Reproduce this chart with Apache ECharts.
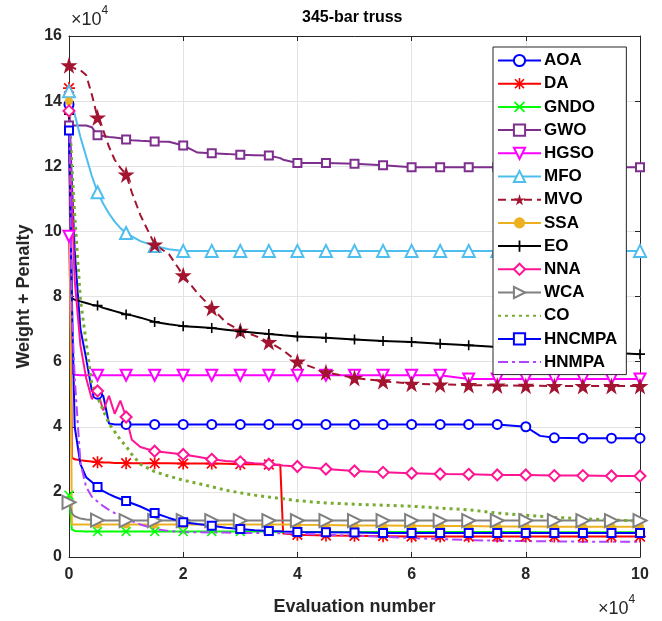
<!DOCTYPE html>
<html>
<head>
<meta charset="utf-8">
<script src="https://cdn.jsdelivr.net/npm/echarts@6/dist/echarts.min.js"></script>
<style>
  html, body { margin: 0; padding: 0; background: #ffffff; }
  #chart { width: 662px; height: 621px; }
</style>
</head>
<body>
<div id="chart"></div>
<script>
// Function evaluations (×10^4) at which each convergence curve is sampled
const evals = [0, 0.05, 0.1, 0.2, 0.3, 0.4, 0.5, 0.6, 0.7, 0.8, 0.9, 1.0, 1.1,
  1.25, 1.5, 1.75, 2.0, 2.25, 2.5, 2.75, 3.0, 3.25, 3.5,
  3.7, 3.75,
  4, 4.5, 5, 5.5, 6, 6.5, 7, 7.5, 8,
  8.25,
  8.5, 9, 9.5, 10];

// Best weight + penalty (×10^4) per algorithm
const AOA = [13.9, 11.5, 9.4, 7.0, 6.1, 5.1, 5.0, 4.95, 4.1, 4.07, 4.07, 4.07, 4.07,
  4.07, 4.07, 4.07, 4.07, 4.07, 4.07, 4.07, 4.07, 4.07, 4.07,
  4.07, 4.07,
  4.07, 4.07, 4.07, 4.07, 4.07, 4.07, 4.07, 4.07, 4.0,
  3.72,
  3.66, 3.65, 3.65, 3.65];
const DA = [14.4, 3.05, 3.0, 2.97, 2.95, 2.93, 2.91, 2.9, 2.9, 2.89, 2.89, 2.88, 2.88,
  2.88, 2.88, 2.88, 2.87, 2.87, 2.87, 2.86, 2.85, 2.85, 2.84,
  2.83, 0.72,
  0.68, 0.66, 0.65, 0.64, 0.63, 0.63, 0.63, 0.63, 0.63,
  0.63,
  0.63, 0.63, 0.63, 0.63];
const GNDO = [1.9, 0.85, 0.8, 0.79, 0.78, 0.78, 0.78, 0.78, 0.78, 0.78, 0.78, 0.78, 0.78,
  0.78, 0.78, 0.78, 0.78, 0.78, 0.78, 0.78, 0.78, 0.78, 0.78,
  0.77, 0.77,
  0.77, 0.77, 0.77, 0.77, 0.77, 0.77, 0.77, 0.77, 0.77,
  0.76,
  0.76, 0.76, 0.76, 0.76];
const GWO = [13.25, 13.25, 13.25, 13.25, 13.25, 13.2, 12.95, 12.93, 12.9, 12.88, 12.86, 12.82, 12.8,
  12.78, 12.76, 12.75, 12.64, 12.42, 12.4, 12.38, 12.35, 12.34, 12.33,
  12.25, 12.2,
  12.1, 12.1, 12.08, 12.03, 11.97, 11.97, 11.97, 11.97, 11.97,
  11.97,
  11.97, 11.97, 11.97, 11.97];
const HGSO = [9.85, 5.65, 5.6, 5.58, 5.58, 5.58, 5.58, 5.58, 5.58, 5.58, 5.58, 5.58, 5.58,
  5.58, 5.58, 5.58, 5.58, 5.58, 5.58, 5.58, 5.58, 5.58, 5.58,
  5.58, 5.58,
  5.58, 5.58, 5.58, 5.58, 5.58, 5.58, 5.47, 5.47, 5.47,
  5.47,
  5.47, 5.47, 5.47, 5.47];
const MFO = [14.3, 13.9, 13.6, 12.9, 12.3, 11.7, 11.2, 10.85, 10.55, 10.3, 10.1, 9.95, 9.85,
  9.7, 9.55, 9.45, 9.4, 9.4, 9.4, 9.4, 9.4, 9.4, 9.4,
  9.4, 9.4,
  9.4, 9.4, 9.4, 9.4, 9.4, 9.4, 9.4, 9.4, 9.4,
  9.4,
  9.4, 9.4, 9.4, 9.4];
const MVO = [15.1, 15.05, 15.0, 14.95, 14.8, 14.2, 13.5, 13.1, 12.6, 12.2, 11.95, 11.75, 11.2,
  10.5, 9.6, 9.3, 8.65, 8.1, 7.65, 7.2, 6.95, 6.8, 6.6,
  6.4, 6.35,
  6.0, 5.67, 5.5, 5.4, 5.32, 5.3, 5.28, 5.27, 5.26,
  5.26,
  5.25, 5.25, 5.25, 5.25];
const SSA = [14.0, 1.0, 1.0, 1.0, 1.0, 1.0, 1.0, 1.0, 1.0, 1.0, 1.0, 1.0, 1.0,
  1.0, 1.0, 1.0, 1.0, 1.0, 1.0, 1.0, 1.0, 1.0, 1.0,
  1.0, 1.0,
  0.99, 0.98, 0.97, 0.97, 0.96, 0.95, 0.95, 0.94, 0.94,
  0.94,
  0.93, 0.93, 0.93, 0.93];
const EO = [13.6, 7.95, 7.9, 7.85, 7.8, 7.75, 7.72, 7.65, 7.6, 7.55, 7.5, 7.45, 7.42,
  7.35, 7.22, 7.15, 7.09, 7.06, 7.03, 6.98, 6.93, 6.89, 6.85,
  6.82, 6.81,
  6.77, 6.73, 6.68, 6.63, 6.6, 6.55, 6.5, 6.45, 6.4,
  6.37,
  6.33, 6.3, 6.27, 6.23];
const NNA = [13.7, 11.0, 8.5, 6.5, 5.5, 4.85, 5.1, 4.5, 4.95, 4.4, 4.8, 4.3, 3.6,
  3.38, 3.25, 3.2, 3.15, 3.08, 3.0, 2.95, 2.92, 2.88, 2.85,
  2.82, 2.81,
  2.78, 2.7, 2.64, 2.6, 2.57, 2.55, 2.54, 2.52, 2.52,
  2.51,
  2.5, 2.5, 2.49, 2.49];
const WCA = [1.68, 1.35, 1.25, 1.18, 1.15, 1.14, 1.13, 1.12, 1.12, 1.12, 1.12, 1.12, 1.12,
  1.12, 1.12, 1.12, 1.12, 1.12, 1.12, 1.12, 1.12, 1.12, 1.12,
  1.12, 1.12,
  1.12, 1.12, 1.12, 1.12, 1.12, 1.12, 1.12, 1.12, 1.12,
  1.12,
  1.12, 1.12, 1.12, 1.12];
const CO = [14.0, 12.0, 10.5, 7.9, 6.6, 5.3, 4.9, 4.5, 4.1, 3.85, 3.6, 3.4, 3.15,
  2.85, 2.62, 2.48, 2.36, 2.26, 2.16, 2.05, 1.97, 1.9, 1.84,
  1.8, 1.79,
  1.73, 1.66, 1.62, 1.59, 1.56, 1.5, 1.45, 1.35, 1.28,
  1.25,
  1.22, 1.17, 1.14, 1.1];
const HNCMPA = [13.1, 8.0, 4.0, 2.85, 2.45, 2.3, 2.15, 2.02, 1.93, 1.85, 1.78, 1.72, 1.65,
  1.55, 1.35, 1.2, 1.07, 1.01, 0.96, 0.9, 0.86, 0.82, 0.8,
  0.79, 0.78,
  0.77, 0.76, 0.75, 0.74, 0.74, 0.74, 0.74, 0.74, 0.74,
  0.74,
  0.74, 0.74, 0.74, 0.74];
const HNMPA = [14.3, 7.5, 5.5, 2.9, 2.15, 1.85, 1.7, 1.56, 1.45, 1.35, 1.25, 1.18, 1.1,
  1.0, 0.86, 0.8, 0.76, 0.76, 0.75, 0.75, 0.74, 0.74, 0.73,
  0.73, 0.73,
  0.72, 0.68, 0.66, 0.62, 0.58, 0.55, 0.52, 0.5, 0.49,
  0.48,
  0.48, 0.47, 0.47, 0.47];

const xTicks = [0, 2, 4, 6, 8, 10];
const yTicks = [0, 2, 4, 6, 8, 10, 12, 14, 16];

// Marker shapes
const ASTERISK = 'path://M4.3,0h1.4v10h-1.4z M0,4.3h10v1.4h-10z M1.5,0.5L9.5,8.5L8.5,9.5L0.5,1.5z M8.5,0.5L9.5,1.5L1.5,9.5L0.5,8.5z';
const CROSS = 'path://M1.5,0.5L9.5,8.5L8.5,9.5L0.5,1.5z M8.5,0.5L9.5,1.5L1.5,9.5L0.5,8.5z';
const PLUS = 'path://M4.2,0h1.6v10h-1.6z M0,4.2h10v1.6h-10z';
const STAR = 'path://M10,0L12.25,6.91L19.51,6.91L13.63,11.18L15.88,18.09L10,13.82L4.12,18.09L6.37,11.18L0.49,6.91L7.75,6.91Z';

const FONT = '"Liberation Sans", Arial, Helvetica, sans-serif';
const INK = '#262626';

// Markers are placed every 0.5 ×10^4 evaluations
function isMarkerStep(x) {
  return Math.abs(x * 2 - Math.round(x * 2)) < 1e-9;
}

function buildData(values, withMarkers) {
  return evals.map((x, i) => {
    const item = { value: [x, values[i]] };
    if (!withMarkers || !isMarkerStep(x)) item.symbol = 'none';
    return item;
  });
}

const seriesDefs = [
  { name: 'AOA', values: AOA, color: '#0000FF', symbol: 'emptyCircle', size: 9 },
  { name: 'DA', values: DA, color: '#FF0000', symbol: ASTERISK, size: 12, filled: true },
  { name: 'GNDO', values: GNDO, color: '#00FF00', symbol: CROSS, size: 10, filled: true },
  { name: 'GWO', values: GWO, color: '#7E2F8E', symbol: 'emptyRect', size: 8 },
  { name: 'HGSO', values: HGSO, color: '#FF00FF', symbol: 'emptyTriangle', size: 11, rotate: 180 },
  { name: 'MFO', values: MFO, color: '#4DBEEE', symbol: 'emptyTriangle', size: 12 },
  { name: 'MVO', values: MVO, color: '#A2142F', symbol: STAR, size: 17, filled: true, dash: [8, 5] },
  { name: 'SSA', values: SSA, color: '#EDB120', symbol: 'circle', size: 8, filled: true },
  { name: 'EO', values: EO, color: '#000000', symbol: PLUS, size: 10, filled: true },
  { name: 'NNA', values: NNA, color: '#FF1493', symbol: 'emptyDiamond', size: 11 },
  { name: 'WCA', values: WCA, color: '#808080', symbol: 'emptyTriangle', size: 13, rotate: -90 },
  { name: 'CO', values: CO, color: '#77AC30', symbol: 'none', size: 0, dash: [3, 4], width: 3 },
  { name: 'HNCMPA', values: HNCMPA, color: '#0000FF', symbol: 'emptyRect', size: 8 },
  { name: 'HNMPA', values: HNMPA, color: '#B045FF', symbol: 'none', size: 0, dash: [10, 4, 3, 4] }
];

const series = seriesDefs.map(d => ({
  name: d.name,
  type: 'line',
  data: buildData(d.values, d.symbol !== 'none'),
  symbol: d.symbol,
  symbolSize: d.size,
  symbolRotate: d.rotate || 0,
  showAllSymbol: true,
  animation: false,
  lineStyle: { color: d.color, width: d.width || 2, type: d.dash || 'solid' },
  itemStyle: d.filled
    ? { color: d.color, borderWidth: 0 }
    : { color: d.color, borderColor: d.color, borderWidth: 2 }
}));

// Legend entries: curves drawn without markers show only their line
const legendData = seriesDefs.map(d => d.symbol === 'none'
  ? { name: d.name, itemStyle: { opacity: 0 } }
  : { name: d.name });

const chart = echarts.init(document.getElementById('chart'), null, { renderer: 'canvas' });

const boldLabel = { fontFamily: FONT, fontWeight: 'bold', fontSize: 16, color: INK };
const scaleRich = {
  b: { font: '18px ' + FONT, fill: INK, padding: [6, 0, 0, 0] },
  s: { font: '12px ' + FONT, fill: INK, verticalAlign: 'top', padding: [0, 0, 8, 0] }
};

chart.setOption({
  backgroundColor: '#ffffff',
  animation: false,
  grid: { left: 69, right: 22, top: 36, bottom: 63, containLabel: false },
  xAxis: [
    {
      type: 'value', min: xTicks[0], max: xTicks[xTicks.length - 1], interval: 2,
      position: 'bottom',
      name: 'Evaluation number', nameLocation: 'middle', nameGap: 41,
      nameTextStyle: { fontFamily: FONT, fontWeight: 'bold', fontSize: 18, color: INK },
      axisLine: { show: true, lineStyle: { color: INK, width: 1 } },
      axisTick: { show: true, inside: true, length: 5, lineStyle: { color: INK } },
      axisLabel: Object.assign({ margin: 10 }, boldLabel),
      splitLine: { show: true, lineStyle: { color: '#e3e3e3', width: 1 } }
    },
    {
      type: 'value', min: xTicks[0], max: xTicks[xTicks.length - 1], interval: 2,
      position: 'top',
      axisLine: { show: true, onZero: false, lineStyle: { color: INK, width: 1 } },
      axisTick: { show: true, inside: true, length: 5, lineStyle: { color: INK } },
      axisLabel: { show: false },
      splitLine: { show: false }
    }
  ],
  yAxis: [
    {
      type: 'value', min: yTicks[0], max: yTicks[yTicks.length - 1], interval: 2,
      position: 'left',
      name: 'Weight + Penalty', nameLocation: 'middle', nameGap: 35,
      nameTextStyle: { fontFamily: FONT, fontWeight: 'bold', fontSize: 18, color: INK },
      axisLine: { show: true, lineStyle: { color: INK, width: 1 } },
      axisTick: { show: true, inside: true, length: 5, lineStyle: { color: INK } },
      axisLabel: Object.assign({ margin: 7 }, boldLabel),
      splitLine: { show: true, lineStyle: { color: '#e3e3e3', width: 1 } }
    },
    {
      type: 'value', min: yTicks[0], max: yTicks[yTicks.length - 1], interval: 2,
      position: 'right',
      axisLine: { show: true, onZero: false, lineStyle: { color: INK, width: 1 } },
      axisTick: { show: true, inside: true, length: 5, lineStyle: { color: INK } },
      axisLabel: { show: false },
      splitLine: { show: false }
    }
  ],
  legend: {
    orient: 'vertical',
    left: 493, top: 47,
    padding: [5, 9, 4, 4],
    itemWidth: 43, itemHeight: 14, itemGap: 6.2,
    backgroundColor: '#ffffff',
    borderColor: INK, borderWidth: 1, borderRadius: 0,
    textStyle: { fontFamily: FONT, fontWeight: 'bold', fontSize: 17, color: '#000000', padding: [0, 0, 0, -2] },
    data: legendData
  },
  graphic: [
    {
      type: 'text', left: 302, top: 10,
      style: { text: '345-bar truss', font: 'bold 16px ' + FONT, fill: '#000000' }
    },
    {
      type: 'text', left: 71, top: 5,
      style: { text: '{b|×10}{s|4}', rich: scaleRich }
    },
    {
      type: 'text', left: 598, top: 594,
      style: { text: '{b|×10}{s|4}', rich: scaleRich }
    }
  ],
  series: series
});
</script>
</body>
</html>
